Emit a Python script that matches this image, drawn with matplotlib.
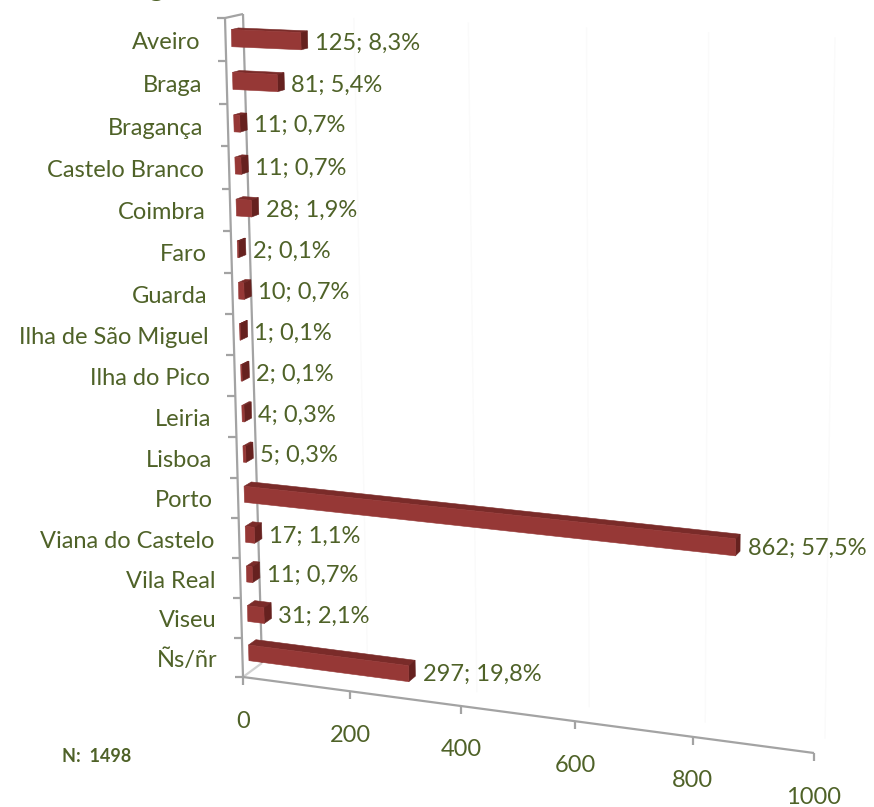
"""
Gráfico de barras 3D (perspectiva estilo Excel) por distrito.
A projeção é feita com uma homografia do plano frontal + deslocamento de profundidade.
"""

import matplotlib
matplotlib.use("Agg")
import matplotlib.pyplot as plt
import numpy as np
from matplotlib.patches import Polygon

# ---- dados ----
categorias = ["Aveiro", "Braga", "Bragança", "Castelo Branco", "Coimbra", "Faro",
              "Guarda", "Ilha de São Miguel", "Ilha do Pico", "Leiria", "Lisboa",
              "Porto", "Viana do Castelo", "Vila Real", "Viseu", "Ñs/ñr"]
contagens = [125, 81, 11, 11, 28, 2, 10, 1, 2, 4, 5, 862, 17, 11, 31, 297]
percentagens = ["8,3", "5,4", "0,7", "0,7", "1,9", "0,1", "0,7", "0,1", "0,1", "0,3",
                "0,3", "57,5", "1,1", "0,7", "2,1", "19,8"]
ticks_x = [0, 200, 400, 600, 800, 1000]
total_n = 1498

# ---- estilo ----
VERDE = "#4F6228"
CINZA = "#A3A3A3"
FRENTE = "#963836"
TOPO = "#7A2B29"
LADO = "#66211F"
plt.rcParams["font.family"] = ["Lato", "DejaVu Sans"]
FS = 17

W, H = 874, 807
XMAX = 1000
NCAT = len(categorias)

# cantos do plano frontal e do plano de fundo (em píxeis)
FRONT_PX = [(225, 18), (243, 677), (814, 753), (825, 42)]
BACK_PX = [(243, 14), (262, 663), (825, 738), (835, 38)]
SRC = [(0, 0), (0, NCAT), (XMAX, NCAT), (XMAX, 0)]
D0, D1 = 0.33, 0.72      # profundidade das barras
BAR_H = 0.4              # altura relativa da barra na categoria


def homography(src, dst):
    a, b = [], []
    for (x, y), (X, Y) in zip(src, dst):
        a.append([x, y, 1, 0, 0, 0, -X * x, -X * y])
        b.append(X)
        a.append([0, 0, 0, x, y, 1, -Y * x, -Y * y])
        b.append(Y)
    h = np.linalg.solve(np.array(a, float), np.array(b, float))
    return np.append(h, 1).reshape(3, 3)


HF = homography(SRC, FRONT_PX)
HB = homography(SRC, BACK_PX)


def apply_h(m, u, w):
    p = m @ np.array([u, w, 1.0])
    return p[:2] / p[2]


def proj(u, w, d=0.0):
    return (1 - d) * apply_h(HF, u, w) + d * apply_h(HB, u, w)


fig = plt.figure(figsize=(W / 100, H / 100), dpi=100)
ax = fig.add_axes([0, 0, 1, 1])
ax.set_xlim(0, W)
ax.set_ylim(H, 0)
ax.axis("off")

# grelha (quase invisível) na parede de fundo
for t in ticks_x[1:]:
    p0, p1 = proj(t, 0, 1), proj(t, NCAT, 1)
    ax.plot([p0[0], p1[0]], [p0[1], p1[1]], color="#FAFAFA", lw=1, zorder=0)

# paredes / eixos
def seg(p, q, **kw):
    ax.plot([p[0], q[0]], [p[1], q[1]], color=CINZA, lw=1.6,
            solid_capstyle="butt", **kw)

seg(proj(0, 0, 0), proj(0, NCAT, 0))
seg(proj(0, 0, 1), proj(0, NCAT, 1))
seg(proj(0, 0, 0), proj(0, 0, 1))
seg(proj(0, NCAT, 0), proj(0, NCAT, 1), alpha=0.5)
seg(proj(0, NCAT, 0), proj(XMAX, NCAT, 0))

# marcas do eixo de categorias
for k in range(NCAT + 1):
    p = proj(0, k, 0)
    seg(p, p + np.array([-8, 0]))

# marcas e rótulos do eixo de valores
for t in ticks_x:
    p = proj(t, NCAT, 0)
    seg(p, p + np.array([0, 8]))
    ax.text(p[0], p[1] + 44, str(t), ha="center", va="center",
            fontsize=FS, color=VERDE)

# barras
for i, (nome, v, pc) in enumerate(zip(categorias, contagens, percentagens)):
    w0 = i + (1 - BAR_H) / 2
    w1 = w0 + BAR_H
    topo = [proj(0, w0, D0), proj(v, w0, D0), proj(v, w0, D1), proj(0, w0, D1)]
    lado = [proj(v, w0, D0), proj(v, w1, D0), proj(v, w1, D1), proj(v, w0, D1)]
    frente = [proj(0, w0, D0), proj(v, w0, D0), proj(v, w1, D0), proj(0, w1, D0)]
    ax.add_patch(Polygon(topo, closed=True, fc=TOPO, ec=TOPO, lw=0.4, zorder=3))
    ax.add_patch(Polygon(lado, closed=True, fc=LADO, ec=LADO, lw=0.4, zorder=3))
    ax.add_patch(Polygon(frente, closed=True, fc=FRENTE, ec=FRENTE, lw=0.4, zorder=4))

    pl = proj(0, i + 0.5, 0)
    ax.text(pl[0] - 25, pl[1] + 3, nome, ha="right", va="center",
            fontsize=FS, color=VERDE)
    pv = proj(v, i + 0.5, 0.5)
    ax.text(pv[0] + 11, pv[1] + 3, f"{v}; {pc}%", ha="left", va="center",
            fontsize=FS, color=VERDE)

ax.text(62, 756, f"N:  {total_n}", ha="left", va="center", fontsize=13,
        fontweight="bold", color=VERDE)
# título cortado no topo (só se vê a descendente)
ax.text(156, -4, "g", ha="center", va="baseline", fontsize=FS + 4,
        fontweight="bold", color=VERDE)

fig.savefig("out.png", dpi=100)
